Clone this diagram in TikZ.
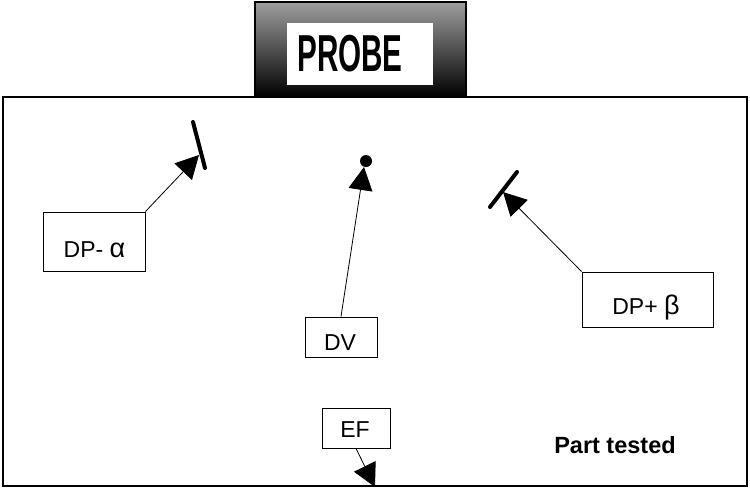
\documentclass[tikz,border=0pt]{standalone}
\usepackage{fontspec}
\setmainfont{Liberation Sans}
\usetikzlibrary{arrows.meta}
\tikzset{
  box/.style={draw=black, line width=1pt, fill=white, inner sep=0pt},
  txt/.style={inner sep=0pt, anchor=base, font=\fontsize{23}{26}\selectfont},
  conn/.style={line width=0.8pt, -{Triangle[length=23pt,width=24pt]}},
  barline/.style={line width=4pt, line cap=round},
}
\begin{document}
\begin{tikzpicture}[x=1pt,y=-1pt]
\useasboundingbox (0,0) rectangle (750,488);
% part tested frame
\draw[line width=1.6pt] (3,97) rectangle (747,486);
% probe
\shade[top color=black!38, bottom color=black] (255,2) rectangle (466,97);
\draw[line width=1.5pt] (255,2) rectangle (466,97);
\node[fill=white, minimum width=146pt, minimum height=62pt, inner sep=0pt] (probe) at (360,54) {};
\node[inner sep=0pt, font=\fontsize{52}{52}\selectfont\bfseries, xscale=0.57] (probetxt) at (350,54) {PROBE};
% boxes
\node[box, minimum width=102pt, minimum height=59pt] (dpa) at (94,241.5) {};
\node[txt] (dpat) at (94.5,257) {DP-~{\fontsize{27}{28}\selectfont α}};
\node[box, minimum width=72pt, minimum height=40pt] (dv) at (341,337) {};
\node[txt] (dvt) at (340,350) {DV};
\node[box, minimum width=131pt, minimum height=55pt] (dpb) at (647.5,299.5) {};
\node[txt] (dpbt) at (646,314) {DP+~{\fontsize{27}{28}\selectfont β}};
\node[box, minimum width=68pt, minimum height=40pt] (ef) at (356,428) {};
\node[txt] (eft) at (355,437) {EF};
\node[inner sep=0pt, anchor=base, font=\fontsize{23.5}{24}\selectfont\bfseries] (part) at (615,453) {Part tested};
% targets
\coordinate (ta) at (199,155);
\coordinate (tv) at (364,167);
\coordinate (tb) at (503,192);
\coordinate (te) at (375,487);
\coordinate (ba1) at (193,122);
\coordinate (ba2) at (205,168);
\coordinate (bb1) at (490,207);
\coordinate (bb2) at (517,172);
\draw[barline] (ba1) -- (ba2);
\draw[barline] (bb1) -- (bb2);
\fill (366,161) circle (6pt);
% connectors
\draw[conn] (dpa.north east) -- (ta);
\draw[conn] (dv.north) -- (tv);
\draw[conn] (dpb.north west) -- (tb);
\draw[conn] (ef.south) -- (te);
\end{tikzpicture}
\end{document}
